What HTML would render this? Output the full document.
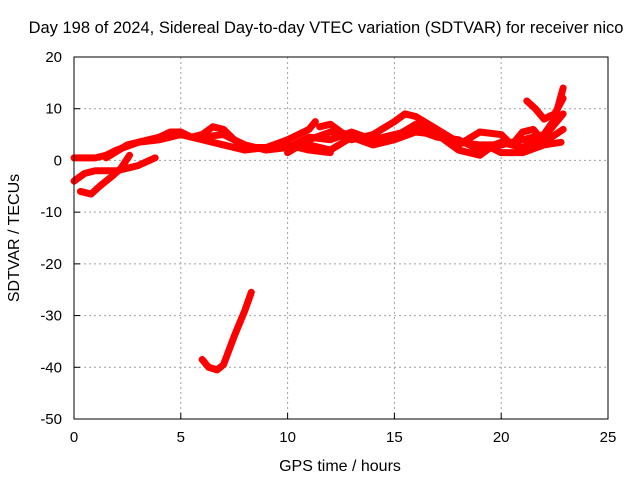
<!DOCTYPE html>
<html><head><meta charset="utf-8"><style>
body{margin:0;background:#fff}
svg text{font-family:"Liberation Sans",sans-serif;font-size:15px;fill:#000}
</style></head><body>
<svg id="c" width="640" height="480">
<rect width="640" height="480" fill="#fff"/>
<text x="326" y="33" text-anchor="middle" style="font-size:16.5px">Day 198 of 2024, Sidereal Day-to-day VTEC variation (SDTVAR) for receiver nico</text>
<text x="340" y="471" text-anchor="middle" style="font-size:16px">GPS time / hours</text>
<text transform="translate(19,238) rotate(-90)" text-anchor="middle" style="font-size:16px">SDTVAR / TECUs</text>
<g id="grid"></g><g id="series"></g>
<rect x="74" y="57" width="534" height="362" fill="none" stroke="#000" stroke-width="1"/>
</svg>
<script>
const xTicks=[0,5,10,15,20,25];
const yTicks=[20,10,0,-10,-20,-30,-40,-50];
const s1=[[0,0.5],[1,0.5],[1.5,1],[2,2],[3,3.5],[4,4.5],[4.5,5.5],[5,5.5],[5.5,4.5],[6,5],[6.5,6.5],[7,6],[7.5,4],[8,2.5],[9,2.5],[10,4],[11,6],[11.3,7.5]];
const s2=[[1.5,0.5],[2.5,3],[3,3.5],[4,4],[5,5],[6,4],[7,3],[8,2],[9,2.5],[10,3],[11,2],[12,1.5]];
const s3=[[11.5,6.5],[12,7],[13,4],[14,5],[15,7.5],[15.5,9],[16,8.5],[17,6],[18,3.5],[19,3],[20,3],[21,4],[22,5],[22.5,8],[22.9,14]];
const s4=[[11,3],[12,2],[13,4.5],[14,3],[15,4],[16,5.5],[17,5],[18,3],[19,5.5],[20,5],[20.5,3],[21,5.5],[21.5,6],[22,3.5],[22.9,6]];
const s5=[[10,1.5],[11,4],[12,5.5],[13,5],[14,3.5],[15,4.5],[16,7],[17,5],[18,2],[19,1],[19.5,2.5],[20,1.5],[21,1.5],[22,3],[22.8,3.5]];
const s6=[[21.2,11.5],[21.6,10],[22,8],[22.5,9],[22.9,12]];
const s7=[[0,-4],[0.5,-2.5],[1,-2],[2,-2],[3,-1],[3.8,0.5]];
const s8=[[0.3,-6],[0.8,-6.5],[1.2,-5],[1.8,-3],[2.2,-1.5],[2.6,1]];
const s9=[[6,-38.5],[6.3,-40],[6.7,-40.5],[7,-39.5],[7.5,-34],[8,-29],[8.3,-25.5]];
const s10=[[6,4.5],[7,5],[8,3],[9,2],[10,2.5],[11,4.5],[12,4],[13,5.5],[14,4],[15,5],[16,6],[17,4.5],[18,4],[19,2],[20,3.5],[21,2.5],[22,4.5],[22.9,9]];
const allSeries=[s1,s2,s3,s4,s5,s6,s7,s8,s9,s10];
const X=v=>74+v*(534/25), Y=v=>57+(20-v)*(362/70);
const NS="http://www.w3.org/2000/svg";
const g=document.getElementById('grid'),sg=document.getElementById('series');
function mk(t,a,p){const e=document.createElementNS(NS,t);for(const k in a)e.setAttribute(k,a[k]);p.appendChild(e);return e;}
xTicks.forEach(v=>{
 if(v>0&&v<25){const l=mk('line',{x1:X(v),x2:X(v),y1:57,y2:419,stroke:'#a0a0a0','stroke-dasharray':'2,3'},g);
 
 }
 const t=mk('text',{x:X(v),y:442,'text-anchor':'middle'},g);t.textContent=v;
 
 
 mk('line',{x1:X(v),x2:X(v),y1:419,y2:413,stroke:'#000'},g);
});
yTicks.forEach(v=>{
 if(v<20&&v>-50){const l=mk('line',{x1:74,x2:608,y1:Y(v),y2:Y(v),stroke:'#a0a0a0','stroke-dasharray':'2,3'},g);
 
 }
 const t=mk('text',{x:62,y:Y(v)+5,'text-anchor':'end'},g);t.textContent=v;
 
 
 mk('line',{x1:74,x2:80,y1:Y(v),y2:Y(v),stroke:'#000'},g);
});
allSeries.forEach((s,i)=>{
 const p=mk('polyline',{points:s.map(d=>X(d[0])+','+Y(d[1])).join(' '),fill:'none',stroke:'#ff0000','stroke-width':7,'stroke-linejoin':'round','stroke-linecap':'round'},sg);
 
 
});
</script>
</body></html>
